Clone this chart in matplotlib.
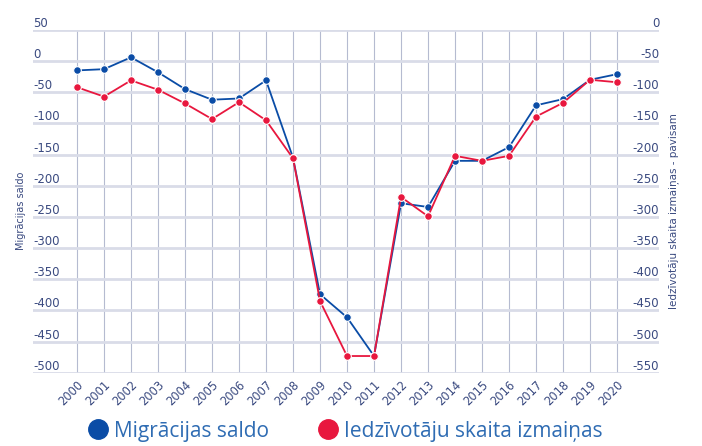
import numpy as np
import matplotlib
matplotlib.use('Agg')
import matplotlib.pyplot as plt
from matplotlib.lines import Line2D

years = list(range(2000, 2021))
migracijas_saldo = [-15, -13, 6, -18, -45, -62, -60, -31, -155, -374, -411, -473,
                    -228, -234, -160, -160, -138, -71, -61, -30, -21]
iedz_izmainas = [-92, -107, -81, -96, -118, -143, -116, -145, -206, -435, -523, -523,
                 -268, -299, -202, -210, -202, -139, -117, -80, -84]
left_ticks = [50, 0, -50, -100, -150, -200, -250, -300, -350, -400, -450, -500]
right_ticks = [0, -50, -100, -150, -200, -250, -300, -350, -400, -450, -500, -550]

blue = '#0a4ca6'
red = '#e8173e'
tick_col = '#3a4a80'
legend_col = '#2f6cb3'

fig = plt.figure(figsize=(7.02, 4.46), dpi=100)
ax = fig.add_axes([0.047, 0.164, 0.892, 0.769])
ax2 = ax.twinx()

ax.set_xlim(1998.37, 2021.56)
ax.set_ylim(-500, 50)
ax2.set_ylim(-550, 0)

for a in (ax, ax2):
    for s in a.spines.values():
        s.set_visible(False)
    a.set_yticks([])
ax.set_xticks(years)
ax.set_xticklabels([str(y) for y in years], rotation=45, ha='right', va='top',
                   rotation_mode='anchor', fontsize=8.3, color=tick_col)
ax.tick_params(axis='x', length=0, pad=4)

# gridlines
for y in years:
    ax.axvline(y, color='#b5bbd0', lw=0.8, zorder=0)
for t in left_ticks:
    ax.axhline(t, color='#d9dce8', lw=2, zorder=0)
    ax.text(0, t, '%d' % t, transform=ax.get_yaxis_transform(), ha='left', va='bottom',
            fontsize=8.5, color=tick_col)
for t in right_ticks:
    ax2.text(1, t, '%d' % t, transform=ax2.get_yaxis_transform(), ha='right', va='bottom',
             fontsize=8.5, color=tick_col)

ax.plot(years, migracijas_saldo, color=blue, lw=1.3, marker='o', ms=5.5,
        mec='white', mew=0.8, zorder=3)
ax2.plot(years, iedz_izmainas, color=red, lw=1.3, marker='o', ms=5.5,
         mec='white', mew=0.8, zorder=3)

fig.text(0.030, 0.527, 'Migrācijas saldo', rotation=90, ha='center', va='center',
         fontsize=7, color=tick_col)
fig.text(0.960, 0.527, 'Iedzīvotāju skaita izmaiņas - pavisam', rotation=90,
         ha='center', va='center', fontsize=7.5, color=tick_col)

handles = [Line2D([], [], ls='none', marker='o', ms=14, color=blue),
           Line2D([], [], ls='none', marker='o', ms=14, color=red)]
leg = fig.legend(handles, ['Migrācijas saldo', 'Iedzīvotāju skaita izmaiņas'],
                 loc='center', bbox_to_anchor=(0.49, 0.033), ncol=2, frameon=False,
                 prop={'family': 'Open Sans', 'size': 15}, handletextpad=0.2,
                 columnspacing=2.2, handlelength=1.2)
for t in leg.get_texts():
    t.set_color(legend_col)

fig.savefig('out.png', dpi=100)
